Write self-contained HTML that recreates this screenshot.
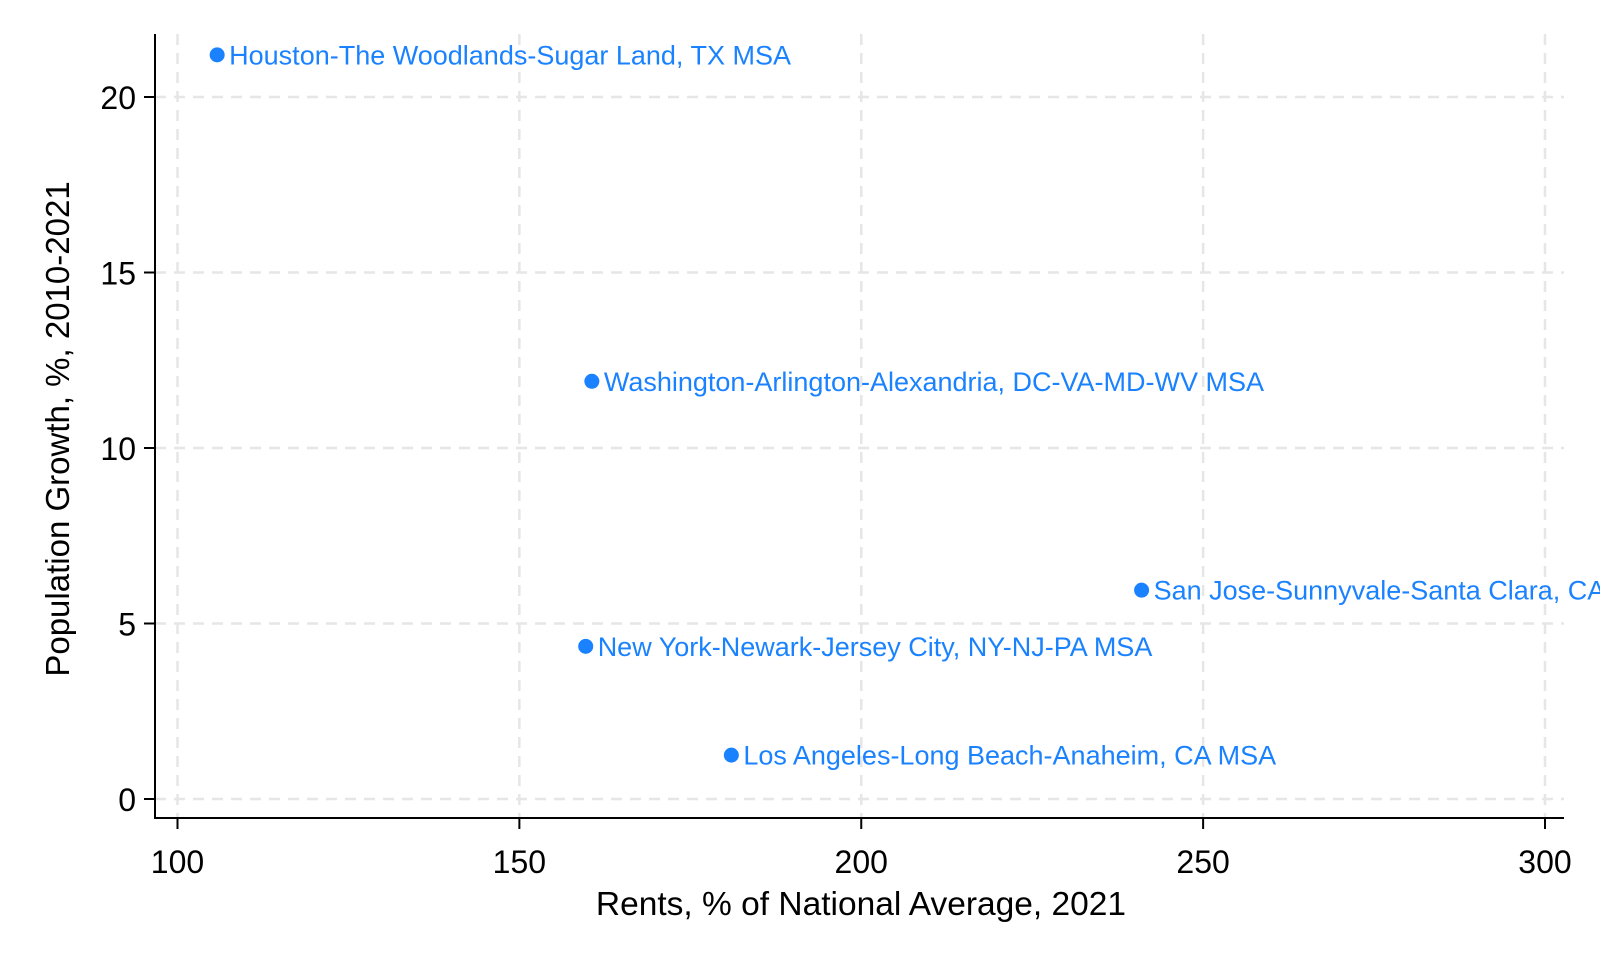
<!DOCTYPE html>
<html><head><meta charset="utf-8"><style>
html,body{margin:0;padding:0;background:#fff;}
svg{display:block;font-family:"Liberation Sans",Arial,sans-serif;}
</style></head><body>
<svg id="chart" width="1600" height="960" viewBox="0 0 1600 960"></svg>
<script>
const labels=["Houston-The Woodlands-Sugar Land, TX MSA","Washington-Arlington-Alexandria, DC-VA-MD-WV MSA","San Jose-Sunnyvale-Santa Clara, CA MSA","New York-Newark-Jersey City, NY-NJ-PA MSA","Los Angeles-Long Beach-Anaheim, CA MSA"];
const rents=[105.8,160.6,241.0,159.7,181.0];
const growth=[21.2,11.9,5.95,4.35,1.25];
const xTicks=[100,150,200,250,300];
const yTicks=[0,5,10,15,20];
const NS="http://www.w3.org/2000/svg";
const svg=document.getElementById('chart');
const X=v=>177.5+(v-100)*(1545-177.5)/200;
const Y=v=>799-v*(799-97)/20;
function mk(t,a,p){const e=document.createElementNS(NS,t);for(const k in a)e.setAttribute(k,a[k]);(p||svg).appendChild(e);return e;}
const grid=mk('g',{});


xTicks.forEach(t=>{
  const l=mk('line',{x1:X(t),x2:X(t),y1:34,y2:818,stroke:'#e6e6e6','stroke-width':2.5,'stroke-dasharray':'11 8'},grid);
  
  
  const tk=mk('line',{x1:X(t),x2:X(t),y1:818,y2:829,stroke:'#000','stroke-width':2});
  
  
  const tx=mk('text',{x:X(t),y:873,'text-anchor':'middle','font-size':32,fill:'#000'});
  tx.textContent=t;
  
  
});
yTicks.forEach(t=>{
  const l=mk('line',{x1:155,x2:1564,y1:Y(t),y2:Y(t),stroke:'#e6e6e6','stroke-width':2.5,'stroke-dasharray':'11 8'},grid);
  
  
  const tk=mk('line',{x1:144,x2:155,y1:Y(t),y2:Y(t),stroke:'#000','stroke-width':2});
  
  
  const tx=mk('text',{x:136,y:Y(t)+12,'text-anchor':'end','font-size':32,fill:'#000'});
  tx.textContent=t;
  
  
});
const ax=mk('path',{d:'M155 34 V818 H1564',fill:'none',stroke:'#000','stroke-width':2});


const xt=mk('text',{x:861,y:915,'text-anchor':'middle','font-size':33.5,fill:'#000'});
xt.textContent='Rents, % of National Average, 2021';


const yt=mk('text',{x:0,y:0,'text-anchor':'middle','font-size':33,fill:'#000',transform:'translate(69,429) rotate(-90)'});
yt.textContent='Population Growth, %, 2010-2021';


rents.forEach((r,i)=>{
  const c=mk('circle',{cx:X(r),cy:Y(growth[i]),r:7.5,fill:'#1a82ff'});
  
  
  const t=mk('text',{x:X(r)+12,y:Y(growth[i])+9.5,'font-size':27,fill:'#1a82ff'});
  t.textContent=labels[i];
  
  
});
</script>
</body></html>
